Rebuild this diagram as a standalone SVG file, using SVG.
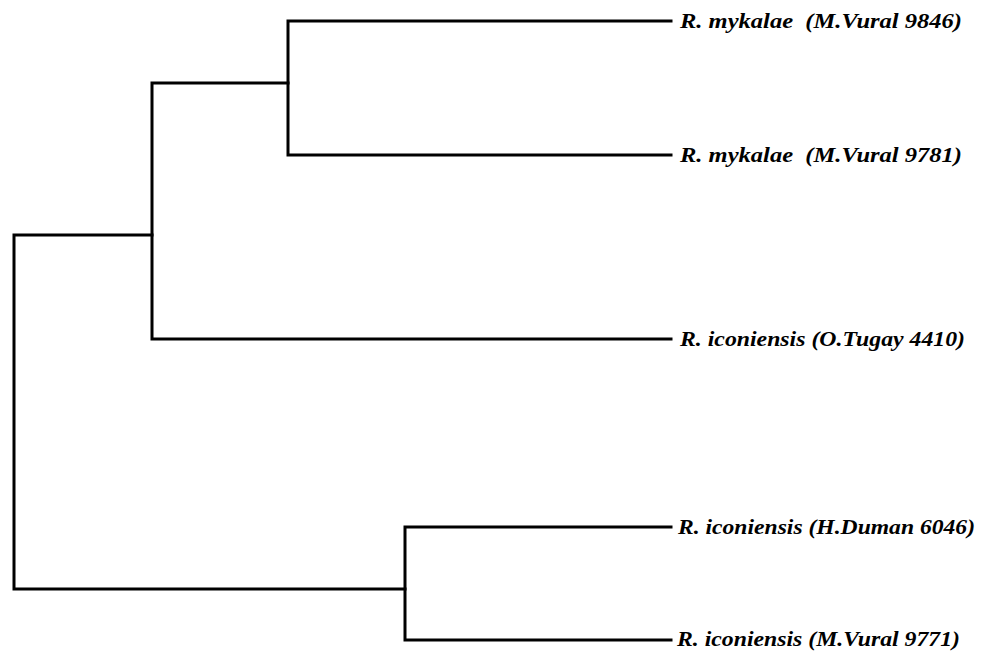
<svg xmlns="http://www.w3.org/2000/svg" width="982" height="651" viewBox="0 0 982 651">
<style>
.br{fill:none;stroke:#000;stroke-width:3;stroke-linecap:square;stroke-linejoin:miter}
.lb{font-family:"Liberation Serif","DejaVu Serif",serif;font-weight:bold;font-style:italic;font-size:20px;fill:#000}
</style>
<rect width="982" height="651" fill="#fff"/>
<g id="connectors">
<path class="br" d="M671,21 H288 V155 H671"/>
<path class="br" d="M288,83 H152 V339 H671"/>
<path class="br" d="M671,527 H405 V640 H671"/>
<path class="br" d="M152,235 H14 V589 H405"/>
</g>
<g id="leaf1"><text class="lb" x="680" y="28" textLength="282" lengthAdjust="spacingAndGlyphs" xml:space="preserve">R. mykalae  (M.Vural 9846)</text></g>
<g id="leaf2"><text class="lb" x="680" y="162" textLength="282" lengthAdjust="spacingAndGlyphs" xml:space="preserve">R. mykalae  (M.Vural 9781)</text></g>
<g id="leaf3"><text class="lb" x="680" y="346" textLength="285" lengthAdjust="spacingAndGlyphs">R. iconiensis (O.Tugay 4410)</text></g>
<g id="leaf4"><text class="lb" x="678" y="534" textLength="297" lengthAdjust="spacingAndGlyphs">R. iconiensis (H.Duman 6046)</text></g>
<g id="leaf5"><text class="lb" x="677" y="646" textLength="283" lengthAdjust="spacingAndGlyphs">R. iconiensis (M.Vural 9771)</text></g>
</svg>
